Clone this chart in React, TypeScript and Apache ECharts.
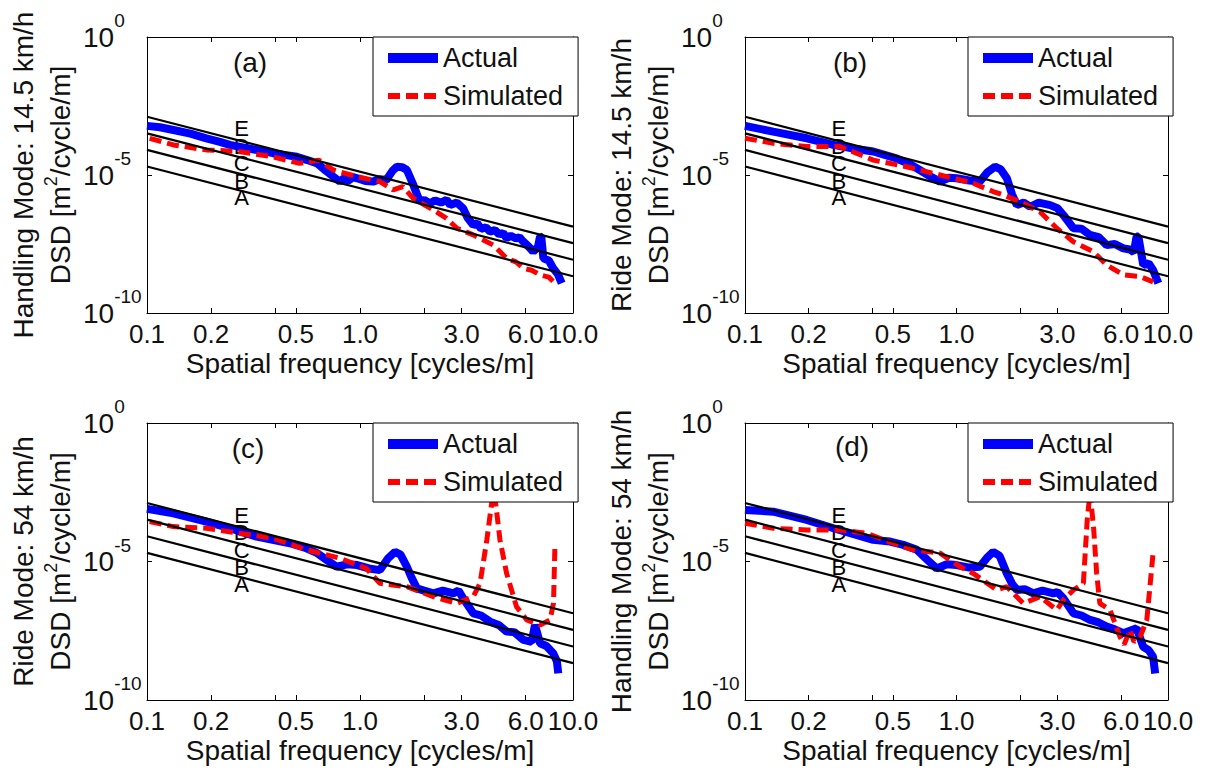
import React, { useEffect, useRef } from "react";
import * as echarts from "echarts";

const FONT = '"Liberation Sans", Arial, Helvetica, sans-serif';
const INK = "#111";

// Axis ticks / labels (spatial frequency in cycles/m, DSD exponent = log10 value)
const xLabelFreqs = [0.1, 0.2, 0.5, 1, 3, 6, 10];
const xTickFreqs = [0.1, 0.2, 0.4, 0.5, 1, 2, 3, 6, 10];
const yExpMin = -10;
const yExpMax = 0;
const yExpStep = 5;

// ISO road class boundary lines (log10 DSD at 0.1 and at 10 cycles/m)
const isoFreqRange = [0.1, 10];
const isoStart = [-2.89, -3.49, -4.09, -4.69];
const isoEnd = [-6.87, -7.47, -8.07, -8.67];

// Road class letters
const classLetters = ["E", "D", "C", "B", "A"];
const classLetterFreq = 0.278;
const classLetterExp = [-3.33, -3.95, -4.6, -5.22, -5.83];

const panelTags = ["(a)", "(b)", "(c)", "(d)"];
const panelModes = [
  "Handling Mode: 14.5 km/h",
  "Ride Mode: 14.5 km/h",
  "Ride Mode: 54 km/h",
  "Handling Mode: 54 km/h",
];

// [frequency (cycles/m), log10 DSD]
const actualA = [
  [0.1, -3.22], [0.115, -3.27], [0.133, -3.37], [0.16, -3.5], [0.19, -3.67], [0.22, -3.8],
  [0.245, -3.91], [0.27, -3.97], [0.33, -4.1], [0.39, -4.21], [0.45, -4.28], [0.505, -4.34],
  [0.56, -4.45], [0.63, -4.58], [0.68, -4.8], [0.72, -4.95], [0.76, -5.1], [0.805, -5.24],
  [0.84, -5.12], [0.88, -5.2], [0.93, -5.08], [0.97, -5.12], [1.06, -5.22], [1.15, -5.24],
  [1.24, -5.15], [1.33, -5.18], [1.42, -4.85], [1.49, -4.7], [1.58, -4.72], [1.66, -4.82],
  [1.78, -5.36], [1.91, -5.97], [2.0, -5.9], [2.13, -6.03], [2.25, -5.92], [2.4, -6.0],
  [2.55, -5.9], [2.65, -6.09], [2.85, -6.0], [3.05, -6.21], [3.2, -6.55], [3.4, -6.81],
  [3.55, -6.75], [3.7, -6.95], [3.9, -6.9], [4.08, -7.05], [4.3, -7.0], [4.5, -7.15],
  [4.7, -7.1], [4.88, -7.29], [5.1, -7.2], [5.4, -7.3], [5.6, -7.25], [5.85, -7.42],
  [6.2, -7.6], [6.5, -7.78], [6.85, -7.6], [7.0, -7.23], [7.1, -7.25], [7.26, -8.02],
  [7.7, -8.1], [8.07, -8.38], [8.5, -8.6], [8.85, -8.92],
];
const simulatedA = [
  [0.103, -3.67], [0.133, -3.91], [0.19, -4.09], [0.27, -4.15], [0.39, -4.34], [0.52, -4.58],
  [0.64, -4.46], [0.75, -4.82], [0.97, -5.06], [1.24, -5.24], [1.43, -5.54], [1.59, -5.42],
  [1.78, -5.85], [2.21, -6.27], [2.55, -6.57], [2.85, -6.93], [3.4, -7.17], [4.23, -7.54],
  [4.88, -8.02], [5.4, -8.15], [5.85, -8.38], [6.4, -8.45], [7.0, -8.62], [7.7, -8.7],
  [8.4, -8.99],
];
const actualB = [
  [0.1, -3.22], [0.136, -3.43], [0.196, -3.67], [0.262, -3.91], [0.33, -4.05], [0.404, -4.15],
  [0.52, -4.4], [0.6, -4.6], [0.67, -4.82], [0.75, -5.05], [0.836, -5.24], [0.92, -5.1],
  [1.0, -5.12], [1.15, -5.2], [1.29, -5.24], [1.4, -4.9], [1.52, -4.7], [1.62, -4.8],
  [1.73, -5.12], [1.83, -5.7], [1.93, -6.09], [2.08, -6.0], [2.23, -6.15], [2.45, -6.0],
  [2.77, -6.09], [3.0, -6.2], [3.2, -6.45], [3.57, -6.93], [3.9, -6.95], [4.28, -7.17],
  [4.7, -7.25], [5.13, -7.54], [5.6, -7.5], [6.15, -7.66], [6.6, -7.7], [6.9, -7.8],
  [7.1, -7.23], [7.24, -7.23], [7.64, -8.26], [8.1, -8.2], [8.5, -8.44], [9.0, -8.92],
];
const simulatedB = [
  [0.1, -3.67], [0.136, -3.85], [0.196, -3.97], [0.281, -3.97], [0.404, -4.46], [0.58, -4.7],
  [0.836, -5.0], [1.2, -5.3], [1.49, -5.6], [1.66, -5.72], [2.0, -5.97], [2.48, -6.33],
  [2.98, -6.93], [3.57, -7.42], [4.44, -7.78], [5.13, -8.26], [6.15, -8.62], [7.38, -8.68],
  [8.5, -8.87],
];
const actualC = [
  [0.1, -3.1], [0.133, -3.26], [0.19, -3.56], [0.245, -3.8], [0.327, -4.1], [0.469, -4.34],
  [0.55, -4.5], [0.63, -4.7], [0.7, -4.95], [0.776, -5.19], [0.87, -5.1], [0.97, -5.13],
  [1.1, -5.25], [1.24, -5.31], [1.35, -4.9], [1.46, -4.65], [1.55, -4.75], [1.66, -5.19],
  [1.75, -5.6], [1.85, -5.97], [2.0, -6.05], [2.21, -6.15], [2.45, -6.05], [2.74, -6.15],
  [2.9, -6.05], [3.05, -6.33], [3.4, -6.87], [3.7, -6.95], [4.08, -7.17], [4.5, -7.3],
  [4.88, -7.53], [5.3, -7.55], [5.85, -7.83], [6.4, -7.9], [6.63, -7.29], [7.0, -7.95],
  [7.5, -8.05], [8.07, -8.31], [8.4, -8.6], [8.53, -9.04],
];
const simulatedC = [
  [0.103, -3.56], [0.133, -3.74], [0.19, -3.8], [0.27, -3.98], [0.39, -4.16], [0.562, -4.58],
  [0.805, -4.88], [1.07, -5.25], [1.24, -5.79], [1.66, -5.91], [2.21, -6.27], [2.85, -6.51],
  [3.4, -6.27], [3.66, -5.79], [3.94, -4.22], [4.15, -2.9], [4.23, -2.5], [4.35, -3.0],
  [4.54, -4.22], [4.88, -5.43], [5.43, -6.63], [6.07, -7.11], [7.0, -7.29], [7.8, -7.11],
  [8.1, -6.5], [8.23, -4.34],
];
const actualD = [
  [0.1, -3.14], [0.136, -3.2], [0.196, -3.5], [0.262, -3.8], [0.404, -4.22], [0.485, -4.28],
  [0.56, -4.4], [0.65, -4.58], [0.73, -4.95], [0.806, -5.25], [0.9, -5.1], [1.0, -5.13],
  [1.15, -5.22], [1.29, -5.19], [1.4, -4.85], [1.49, -4.65], [1.6, -4.8], [1.73, -5.43],
  [1.83, -5.8], [1.93, -6.03], [2.1, -6.0], [2.31, -6.15], [2.55, -6.05], [2.87, -6.15],
  [3.0, -6.1], [3.2, -6.33], [3.57, -6.87], [3.9, -6.95], [4.28, -7.11], [4.7, -7.2],
  [5.13, -7.35], [5.6, -7.45], [6.15, -7.59], [7.11, -7.41], [7.64, -8.08], [8.1, -8.2],
  [8.5, -8.44], [8.7, -9.04],
];
const simulatedD = [
  [0.1, -3.62], [0.136, -3.8], [0.196, -3.86], [0.281, -3.86], [0.376, -3.98], [0.502, -4.34],
  [0.625, -4.58], [0.836, -4.7], [1.04, -5.19], [1.2, -5.43], [1.55, -6.03], [1.73, -5.91],
  [2.07, -6.51], [2.48, -6.27], [2.98, -6.75], [3.2, -6.39], [3.57, -6.03], [3.98, -5.79],
  [4.15, -3.5], [4.28, -2.5], [4.45, -3.8], [4.6, -5.43], [4.76, -6.51], [5.32, -6.75],
  [5.6, -7.2], [5.93, -7.72], [6.2, -8.0], [6.61, -7.47], [6.9, -7.9], [7.38, -7.72],
  [7.94, -7.11], [8.5, -4.7],
];

const actualSets = [actualA, actualB, actualC, actualD];
const simulatedSets = [simulatedA, simulatedB, simulatedC, simulatedD];

// Layout (pixels)
const grids = [
  { left: 147, top: 37, width: 426, height: 276 },
  { left: 745, top: 37, width: 423, height: 276 },
  { left: 147, top: 423, width: 426, height: 277 },
  { left: 745, top: 423, width: 423, height: 277 },
];
const legendPos = [
  { left: 373, top: 37 },
  { left: 968, top: 37 },
  { left: 373, top: 423 },
  { left: 968, top: 423 },
];
const tagPos = [
  [250, 62],
  [850, 62],
  [248, 448],
  [852, 446],
];

const lg = (f: number) => Math.log10(f);
const toXY = (arr: number[][]) => arr.map(([f, e]) => [lg(f), e]);

function buildOption() {
  const xAxis: any[] = [];
  const yAxis: any[] = [];
  const series: any[] = [];
  const axisLine = { show: true, onZero: false, lineStyle: { color: "#000", width: 1 } };

  grids.forEach((_, i) => {
    xAxis.push({
      type: "value",
      gridIndex: i,
      position: "bottom",
      min: lg(isoFreqRange[0]),
      max: lg(isoFreqRange[1]),
      axisLine,
      axisTick: { show: true, inside: true, length: 5, customValues: xTickFreqs.map(lg), lineStyle: { color: "#000" } },
      axisLabel: {
        show: true,
        customValues: xLabelFreqs.map(lg),
        formatter: (v: number) => Math.pow(10, v).toFixed(1),
        fontSize: 26,
        color: INK,
        fontFamily: FONT,
        margin: 8,
      },
      splitLine: { show: false },
      name: "Spatial frequency [cycles/m]",
      nameLocation: "middle",
      nameGap: 36,
      nameTextStyle: { fontSize: 28, color: INK, fontFamily: FONT },
    });
    xAxis.push({
      type: "value",
      gridIndex: i,
      position: "top",
      min: lg(isoFreqRange[0]),
      max: lg(isoFreqRange[1]),
      axisLine,
      axisTick: { show: true, inside: true, length: 5, customValues: xTickFreqs.map(lg), lineStyle: { color: "#000" } },
      axisLabel: { show: false },
      splitLine: { show: false },
    });
    yAxis.push({
      type: "value",
      gridIndex: i,
      position: "left",
      min: yExpMin,
      max: yExpMax,
      interval: yExpStep,
      axisLine,
      axisTick: { show: true, inside: true, length: 5, lineStyle: { color: "#000" } },
      axisLabel: {
        show: true,
        align: "left",
        margin: 64,
        formatter: (v: number) => `{b|10}{s|${v}}`,
        rich: {
          b: { fontSize: 28, lineHeight: 52, fontFamily: FONT, color: INK },
          s: { fontSize: 19, verticalAlign: "top", fontFamily: FONT, color: INK },
        },
      },
      splitLine: { show: false },
      name: `${panelModes[i]}\nDSD [m{s|2}/cycle/m]`,
      nameLocation: "middle",
      nameRotate: 90,
      nameGap: 68,
      nameTextStyle: {
        fontSize: 28,
        lineHeight: 37,
        color: INK,
        fontFamily: FONT,
        rich: { s: { fontSize: 18, verticalAlign: "top", fontFamily: FONT, color: INK } },
      },
    });
    yAxis.push({
      type: "value",
      gridIndex: i,
      position: "right",
      min: yExpMin,
      max: yExpMax,
      interval: yExpStep,
      axisLine,
      axisTick: { show: true, inside: true, length: 5, lineStyle: { color: "#000" } },
      axisLabel: { show: false },
      splitLine: { show: false },
    });

    const xi = 2 * i;
    const yi = 2 * i;

    series.push({
      type: "scatter",
      name: "classes",
      xAxisIndex: xi,
      yAxisIndex: yi,
      silent: true,
      symbol: "rect",
      symbolSize: 2,
      itemStyle: { color: "#fff", opacity: 0 },
      data: classLetterExp.map((e, k) => [lg(classLetterFreq), e, classLetters[k]]),
      label: {
        show: true,
        position: [1, 1],
        align: "center",
        verticalAlign: "middle",
        formatter: (p: any) => p.value[2],
        fontSize: 22,
        lineHeight: 16,
        color: "#000",
        opacity: 1,
        fontFamily: FONT,
      },
      emphasis: { disabled: true },
      z: 1,
    });
    series.push({
      type: "line",
      name: "Actual",
      xAxisIndex: xi,
      yAxisIndex: yi,
      symbol: "none",
      showSymbol: false,
      lineStyle: { color: "#0000ff", width: 8 },
      itemStyle: { color: "#0000ff" },
      data: toXY(actualSets[i]),
      z: 2,
    });
    series.push({
      type: "line",
      name: "Simulated",
      xAxisIndex: xi,
      yAxisIndex: yi,
      symbol: "none",
      showSymbol: false,
      lineStyle: { color: "#ff0000", width: 5, type: [12, 6] },
      itemStyle: { color: "#ff0000" },
      data: toXY(simulatedSets[i]),
      z: 3,
    });
    isoStart.forEach((s, k) => {
      series.push({
        type: "line",
        name: `iso${k}`,
        xAxisIndex: xi,
        yAxisIndex: yi,
        symbol: "none",
        silent: true,
        lineStyle: { color: "#000", width: 2.2 },
        data: [
          [lg(isoFreqRange[0]), s],
          [lg(isoFreqRange[1]), isoEnd[k]],
        ],
        z: 4,
      });
    });
  });

  const legend = legendPos.map((p) => ({
    data: [
      { name: "Actual", lineStyle: { width: 10 }, itemStyle: { opacity: 0 } },
      { name: "Simulated", lineStyle: { width: 6 }, itemStyle: { opacity: 0 } },
    ],
    orient: "vertical",
    left: p.left,
    top: p.top,
    itemWidth: 50,
    itemHeight: 14,
    itemGap: 8,
    padding: [6, 15, 5, 10],
    borderColor: "#000",
    borderWidth: 1,
    borderRadius: 0,
    backgroundColor: "#fff",
    selectedMode: false,
    textStyle: { fontSize: 27, lineHeight: 30, color: INK, fontFamily: FONT },
    z: 10,
  }));

  const graphic = panelTags.map((t, i) => ({
    type: "text",
    x: tagPos[i][0],
    y: tagPos[i][1],
    style: {
      text: t,
      fontSize: 28,
      fontFamily: FONT,
      fill: INK,
      align: "center",
      verticalAlign: "middle",
    },
    z: 20,
  }));

  return {
    animation: false,
    backgroundColor: "#fff",
    textStyle: { fontFamily: FONT },
    grid: grids.map((g) => ({ ...g, containLabel: false })),
    xAxis,
    yAxis,
    legend,
    graphic,
    series,
  };
}

export default function App() {
  const ref = useRef<HTMLDivElement>(null);
  useEffect(() => {
    if (!ref.current) return;
    const chart = echarts.init(ref.current, undefined, { renderer: "svg" });
    chart.setOption(buildOption() as any);
    return () => chart.dispose();
  }, []);
  return (
    <div
      ref={ref}
      style={{ position: "fixed", left: 0, top: 0, width: 1208, height: 772, background: "#fff" }}
    />
  );
}
